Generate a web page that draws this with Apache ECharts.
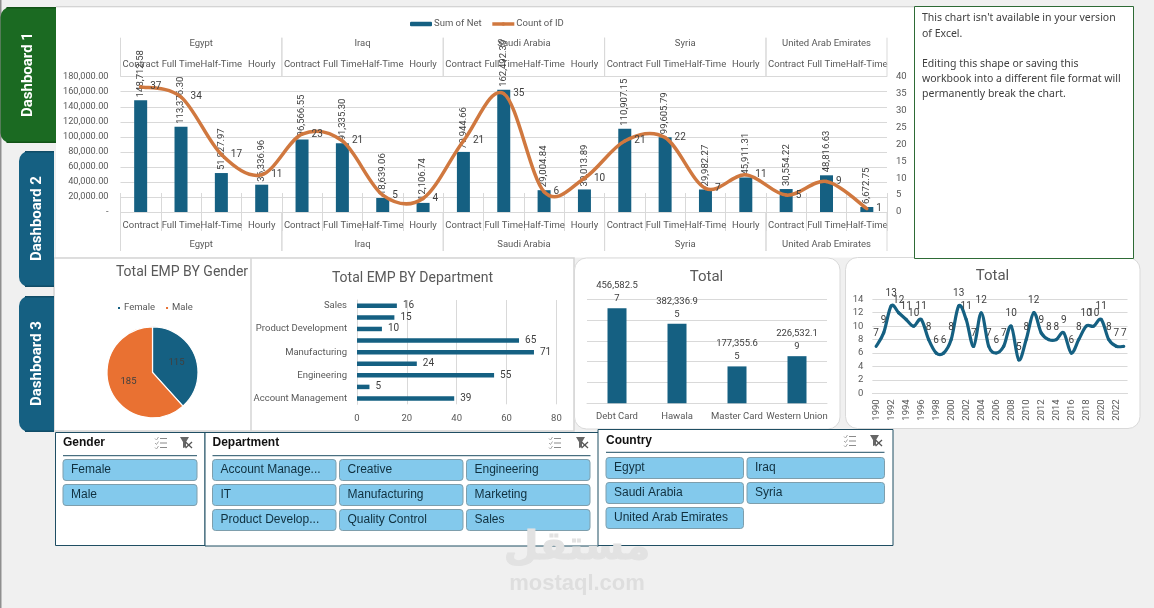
<!DOCTYPE html>
<html>
<head>
<meta charset="utf-8">
<title>HR and Payroll Dashboard</title>
<style>
  html, body { margin: 0; padding: 0; background: #f0f0f0; overflow: hidden; }
  #board { width: 1154px; height: 608px; }
</style>
<script src="https://cdn.jsdelivr.net/npm/echarts@6/dist/echarts.min.js"></script>
</head>
<body>
<div id="board"></div>
<script>
// Net pay and headcount by country and contract type
const contractTypes = ['Contract','Full Time','Half-Time','Hourly','Contract','Full Time','Half-Time','Hourly','Contract','Full Time','Half-Time','Hourly','Contract','Full Time','Half-Time','Hourly','Contract','Full Time','Half-Time'];
const netByContract = [148712.58,113376.30,51827.97,36336.96,96566.55,91335.30,18639.06,12106.74,79944.66,162492.39,29004.84,30013.89,110907.15,99605.79,29982.27,45911.31,30554.22,48816.63,6672.75];
const countByContract = [37,34,17,11,23,21,5,4,21,35,6,10,21,22,7,11,5,9,1];
const countryNames = ['Egypt','Iraq','Saudi Arabia','Syria','United Arab Emirates'];
const countrySizes = [4,4,4,4,3];

// Headcount by gender
const genderNames = ['Female','Male'];
const genderCounts = [115,185];

// Headcount by department
const departmentNames = ['Account Management','Creative','Engineering','IT','Manufacturing','Marketing','Product Development','Quality Control','Sales'];
const departmentCounts = [39,5,55,24,71,65,10,15,16];

// Net pay by payment method
const paymentMethods = ['Debt Card','Hawala','Master Card','Western Union'];
const paymentTotals = [456582.57,382336.95,177355.65,226532.19];

// Hires per year
const hireYears = ['1990','1991','1992','1993','1994','1995','1996','1997','1998','1999','2000','2001','2002','2003','2004','2005','2006','2007','2008','2009','2010','2011','2012','2013','2014','2015','2016','2017','2018','2019','2020','2021','2022','2023'];
const hireCounts = [7,9,13,12,11,10,11,8,6,6,8,13,11,7,12,7,6,7,10,5,8,12,9,8,8,9,6,8,10,10,11,8,7,7];

// Slicer captions
const genderButtons = ['Female','Male'];
const departmentButtons = ['Account Manage...','Creative','Engineering','IT','Manufacturing','Marketing','Product Develop...','Quality Control','Sales'];
const countryButtons = ['Egypt','Iraq','Saudi Arabia','Syria','United Arab Emirates'];

const navTabs = ['Dashboard 1','Dashboard 2','Dashboard 3'];
const noticeLines = ["This chart isn't available in your version",'of Excel.','','Editing this shape or saving this','workbook into a different file format will','permanently break the chart.'];

const BLUE = '#156082', ORANGE = '#E97132', CURVE = '#D0783F', GRID = '#d9d9d9', TEXT = '#595959', LABEL = '#404040';
const CHART_FONT = 'Roboto,sans-serif';
const DATA_FONT = 'Roboto,sans-serif';
const TITLE_FONT = 'Roboto,sans-serif';
const NOTE_FONT = '"Noto Sans",sans-serif';
const SLICER_FONT = '"Liberation Sans",sans-serif';

function money(v, digits) {
  return v.toLocaleString('en-US', { minimumFractionDigits: digits, maximumFractionDigits: digits });
}

// Country spans for the outer level of the two-level category axis
const countrySpans = [];
countrySizes.reduce((start, size) => { countrySpans.push([start, start + size - 1]); return start + size; }, 0);

function renderCountryLevel(params, api) {
  const span = countrySpans[params.dataIndex];
  const band = api.size([1, 0])[0];
  const x0 = api.coord([span[0], 0])[0] - band / 2;
  const x1 = api.coord([span[1], 0])[0] + band / 2;
  const top = params.coordSys.y, bottom = params.coordSys.y + params.coordSys.height;
  const stroke = { stroke: GRID, lineWidth: 1 };
  const kids = [];
  [x0, x1].forEach(x => {
    kids.push({ type: 'line', shape: { x1: x, y1: top - 39, x2: x, y2: top }, style: stroke, silent: true });
    kids.push({ type: 'line', shape: { x1: x, y1: bottom, x2: x, y2: bottom + 39 }, style: stroke, silent: true });
  });
  [top - 33, bottom + 33].forEach(y => {
    kids.push({ type: 'text', x: (x0 + x1) / 2, y, style: { text: countryNames[params.dataIndex], fill: TEXT, font: '9.5px ' + CHART_FONT, align: 'center', verticalAlign: 'middle' } });
  });
  return { type: 'group', children: kids };
}

// Spline drawn the way spreadsheet charts smooth a line: Catmull-Rom through every value
function splineRenderer(values, color, width) {
  return function (params, api) {
    const i = params.dataIndex;
    if (i >= values.length - 1) return null;
    const at = k => api.coord([Math.min(values.length - 1, Math.max(0, k)), values[Math.min(values.length - 1, Math.max(0, k))]]);
    const p0 = at(i - 1), p1 = at(i), p2 = at(i + 1), p3 = at(i + 2);
    return {
      type: 'bezierCurve', silent: true,
      shape: {
        x1: p1[0], y1: p1[1], x2: p2[0], y2: p2[1],
        cpx1: p1[0] + (p2[0] - p0[0]) / 6, cpy1: p1[1] + (p2[1] - p0[1]) / 6,
        cpx2: p2[0] - (p3[0] - p1[0]) / 6, cpy2: p2[1] - (p3[1] - p1[1]) / 6
      },
      style: { stroke: color, lineWidth: width, fill: null, lineCap: 'round' }
    };
  };
}
const indexed = values => values.map((v, i) => [i, v]);

// Static page furniture
const shapes = [];
function rect(x, y, w, h, fill, stroke, r, lw) {
  shapes.push({ type: 'rect', z: -10, shape: { x, y, width: w, height: h, r: r || 0 }, style: { fill: fill || 'transparent', stroke: stroke || null, lineWidth: lw || 1 }, silent: true });
}
function label(x, y, text, font, fill, align) {
  shapes.push({ type: 'text', z: -5, x, y, style: { text, font, fill, align: align || 'left', verticalAlign: 'middle' }, silent: true });
}

rect(0, 0, 1.5, 608, '#8f8f8f');
rect(56, 6, 858, 1.5, '#d4d4d4');
rect(56, 7.5, 858, 250, '#ffffff');
rect(54, 258, 520, 173, '#ffffff', '#d4d4d4', 0, 1.5);
shapes.push({ type: 'line', z: -9, shape: { x1: 251, y1: 258, x2: 251, y2: 431 }, style: { stroke: '#d4d4d4', lineWidth: 1.5 }, silent: true });
rect(574.5, 258, 265.5, 171, '#ffffff', '#d9d9d9', 12);
rect(845.5, 257.5, 294.5, 171, '#ffffff', '#d9d9d9', 12);
rect(914.5, 6.5, 219, 252, '#ffffff', '#2e6b36', 0, 1);
noticeLines.forEach((t, i) => label(922, 18.5 + i * 15.2, t, '10.5px ' + NOTE_FONT, '#404040'));

// Side navigation tabs
const tabBoxes = [[0.5, 7, 55.5, 136, '#1B6A22', '#125217'], [19, 151, 35, 136, BLUE, '#104c67'], [19, 296, 35, 136, BLUE, '#104c67']];
navTabs.forEach((name, i) => {
  const b = tabBoxes[i];
  rect(b[0], b[1], b[2], b[3], b[4], null, [10, 0, 0, 10]);
  shapes.push({ type: 'rect', z: -9, shape: { x: b[0] + 6, y: b[1], width: b[2] - 6, height: 1.5 }, style: { fill: b[5] }, silent: true });
  shapes.push({ type: 'rect', z: -9, shape: { x: b[0] + 6, y: b[1] + b[3] - 1.5, width: b[2] - 6, height: 1.5 }, style: { fill: b[5] }, silent: true });
  shapes.push({ type: 'text', z: -5, x: b[0] + b[2] - (i === 0 ? 27.5 : 16.5), y: b[1] + b[3] / 2 - 0.5, rotation: Math.PI / 2, style: { text: name, font: 'bold 15px ' + TITLE_FONT, fill: '#ffffff', align: 'center', verticalAlign: 'middle' }, silent: true });
});

// Slicer header icons
function slicerIcons(xList, y) {
  const c = '#8a8a8a';
  for (let k = 0; k < 3; k++) {
    const yy = y - 4.5 + k * 4.5;
    shapes.push({ type: 'line', z: -5, shape: { x1: xList[0] - 1, y1: yy, x2: xList[0] + 6, y2: yy }, style: { stroke: c, lineWidth: 1 }, silent: true });
    shapes.push({ type: 'polyline', z: -5, shape: { points: [[xList[0] - 6, yy], [xList[0] - 4.5, yy + 1.5], [xList[0] - 2.5, yy - 1.5]] }, style: { stroke: '#a8a8a8', fill: null, lineWidth: 1 }, silent: true });
  }
  const fx = xList[1];
  shapes.push({ type: 'polygon', z: -5, shape: { points: [[fx - 6, y - 6], [fx + 3, y - 6], [fx, y - 1], [fx, y + 4], [fx - 3, y + 5], [fx - 3, y - 1]] }, style: { fill: '#666666' }, silent: true });
  shapes.push({ type: 'line', z: -4, shape: { x1: fx - 0.5, y1: y - 1, x2: fx + 6, y2: y + 5 }, style: { stroke: '#555555', lineWidth: 1.3 }, silent: true });
  shapes.push({ type: 'line', z: -4, shape: { x1: fx + 6, y1: y - 1, x2: fx - 0.5, y2: y + 5 }, style: { stroke: '#555555', lineWidth: 1.3 }, silent: true });
}

function slicer(box, title, captions, cols, innerX, btnW, btnPitch, ruleRight, headY, ruleY, firstBtnY, iconX) {
  rect(box[0], box[1], box[2], box[3], '#ffffff', '#1f4e63', 0, 1);
  label(innerX, headY, title, 'bold 12px ' + SLICER_FONT, '#111111');
  shapes.push({ type: 'line', z: -5, shape: { x1: innerX, y1: ruleY, x2: ruleRight, y2: ruleY }, style: { stroke: '#1f4e63', lineWidth: 1 }, silent: true });
  slicerIcons(iconX, headY);
  captions.forEach((cap, i) => {
    const col = i % cols, row = Math.floor(i / cols);
    const bx = innerX + col * btnPitch, by = firstBtnY + row * 25;
    rect(bx, by, btnW, 21, '#83C9EC', '#7e9eac', 3, 1);
    label(bx + 8, by + 10.5, cap, '12px ' + SLICER_FONT, '#10303f');
  });
}
slicer([55.5, 432.5, 149.5, 113], 'Gender', genderButtons, 1, 63, 134, 0, 197, 443, 455.7, 459.5, [161, 186]);
slicer([205, 432.5, 393.5, 113.5], 'Department', departmentButtons, 3, 212.5, 123.5, 127, 590.5, 443, 455.7, 459.5, [555, 582]);
slicer([598, 429.5, 295, 116], 'Country', countryButtons, 2, 606, 137.5, 141, 884.5, 441, 452.3, 457.5, [850, 876]);

// Site mark beneath the slicers
shapes.push({ type: 'text', z: -3, x: 577, y: 549, style: { text: 'مستقل', font: 'bold 40px "DejaVu Sans",sans-serif', fill: '#e2e2e2', stroke: '#e2e2e2', lineWidth: 1, align: 'center', verticalAlign: 'middle' }, silent: true });
label(577, 584, 'mostaql.com', 'bold 22px "Liberation Sans",sans-serif', '#dedede', 'center');

const G = (left, right, top, bottom) => ({ left, top, width: right - left, height: bottom - top, containLabel: false });
const plainAxisLabel = (size) => ({ color: TEXT, fontFamily: CHART_FONT, fontSize: size });
const chartTitle = (text, left, top, size) => ({ text, left, top, padding: 0, textAlign: 'center', textVerticalAlign: 'middle', textStyle: { fontFamily: TITLE_FONT, fontSize: size, fontWeight: 'normal', color: TEXT } });

const option = {
  animation: false,
  backgroundColor: '#f0f0f0',
  graphic: { elements: shapes },
  title: [
    chartTitle('Total EMP BY Gender', 182, 272.5, 14),
    chartTitle('Total EMP BY Department', 412.5, 278.5, 14),
    chartTitle('Total', 706.5, 277.5, 15),
    chartTitle('Total', 992.5, 276, 15)
  ],
  legend: [
    { data: ['Sum of Net', 'Count of ID'], left: 405, top: 14, itemWidth: 22, itemHeight: 4.5, itemGap: 9,
      lineStyle: { width: 3.5, opacity: 1, color: CURVE },
      textStyle: { color: TEXT, fontFamily: CHART_FONT, fontSize: 9.5, padding: [0, 0, 0, -3] } },
    { data: genderNames, left: 111, top: 298, itemWidth: 4, itemHeight: 4, itemGap: 9, icon: 'rect', textStyle: { color: TEXT, fontFamily: CHART_FONT, fontSize: 9.5, padding: [0, 0, 0, -2] } }
  ],
  grid: [
    G(120.5, 887, 76.7, 212),
    G(357, 556.4, 300, 404.3),
    G(587, 827, 299.3, 403.3),
    G(872.4, 1127.5, 299.3, 393.3)
  ],
  xAxis: [
    { gridIndex: 0, type: 'category', data: contractTypes, position: 'bottom',
      axisLine: { lineStyle: { color: GRID } }, axisTick: { show: true, length: 19, lineStyle: { color: GRID } },
      axisLabel: Object.assign(plainAxisLabel(9.5), { interval: 0, margin: 9 }) },
    { gridIndex: 0, type: 'category', data: contractTypes, position: 'top',
      axisLine: { lineStyle: { color: GRID } }, axisTick: { show: true, length: 19, lineStyle: { color: GRID } },
      axisLabel: Object.assign(plainAxisLabel(9.5), { interval: 0, margin: 7.5 }) },
    { gridIndex: 1, type: 'value', min: 0, max: 80, interval: 20,
      axisLine: { show: false }, axisTick: { show: false },
      splitLine: { lineStyle: { color: GRID } },
      axisLabel: Object.assign(plainAxisLabel(9.5), { margin: 9 }) },
    { gridIndex: 2, type: 'category', data: paymentMethods,
      axisLine: { lineStyle: { color: GRID } }, axisTick: { show: false },
      axisLabel: Object.assign(plainAxisLabel(9.5), { interval: 0, margin: 8 }) },
    { gridIndex: 3, type: 'category', data: hireYears,
      axisLine: { lineStyle: { color: GRID } }, axisTick: { show: false },
      axisLabel: Object.assign(plainAxisLabel(9.5), { interval: 1, rotate: 90, margin: 6 }) }
  ],
  yAxis: [
    { gridIndex: 0, type: 'value', min: 0, max: 180000, interval: 20000,
      axisLine: { show: false }, axisTick: { show: false }, splitLine: { lineStyle: { color: GRID } },
      axisLabel: Object.assign(plainAxisLabel(9.2), { margin: 12, formatter: v => v === 0 ? '-' : money(v, 2) }) },
    { gridIndex: 0, type: 'value', min: 0, max: 40, interval: 5, position: 'right',
      axisLine: { show: false }, axisTick: { show: false }, splitLine: { show: false },
      axisLabel: Object.assign(plainAxisLabel(9.5), { margin: 9 }) },
    { gridIndex: 1, type: 'category', data: departmentNames,
      axisLine: { show: true, lineStyle: { color: GRID } }, axisTick: { show: false },
      axisLabel: Object.assign(plainAxisLabel(9.5), { interval: 1, margin: 10 }) },
    { gridIndex: 2, type: 'value', min: 0, max: 500000, interval: 100000,
      axisLine: { show: false }, axisTick: { show: false }, splitLine: { lineStyle: { color: GRID } },
      axisLabel: { show: false } },
    { gridIndex: 3, type: 'value', min: 0, max: 14, interval: 2,
      axisLine: { show: false }, axisTick: { show: false }, splitLine: { lineStyle: { color: GRID } },
      axisLabel: Object.assign(plainAxisLabel(9.5), { margin: 9 }) }
  ],
  series: [
    { name: 'Sum of Net', type: 'bar', xAxisIndex: 0, yAxisIndex: 0, data: netByContract, barWidth: 13, itemStyle: { color: BLUE },
      label: { show: true, position: 'top', rotate: 90, distance: 3, align: 'left', verticalAlign: 'middle', color: LABEL, fontFamily: DATA_FONT, fontSize: 9.5, formatter: p => money(p.value, 2) } },
    { type: 'custom', xAxisIndex: 0, yAxisIndex: 1, data: indexed(countByContract), renderItem: splineRenderer(countByContract, CURVE, 3.5), silent: true, z: 4 },
    { name: 'Count of ID', type: 'line', xAxisIndex: 0, yAxisIndex: 1, data: countByContract, symbol: 'circle', symbolSize: 1, showSymbol: true, z: 5,
      lineStyle: { opacity: 0 }, itemStyle: { color: CURVE },
      label: { show: true, position: 'right', distance: 9, color: LABEL, fontFamily: DATA_FONT, fontSize: 10 } },
    { type: 'custom', xAxisIndex: 0, yAxisIndex: 0, data: countrySpans, renderItem: renderCountryLevel, silent: true, z: 1 },
    { name: 'Gender', type: 'pie', center: [152.5, 372.3], radius: [0, 45.5], startAngle: 90, clockwise: true,
      data: genderNames.map((name, i) => ({ name, value: genderCounts[i], itemStyle: { color: i ? ORANGE : BLUE } })),
      itemStyle: { borderColor: '#ffffff', borderWidth: 1.2 },
      label: { show: true, position: 'inside', formatter: '{c}', color: LABEL, fontFamily: DATA_FONT, fontSize: 9.5 }, labelLine: { show: false }, emphasis: { disabled: true } },
    { name: 'Department', type: 'bar', xAxisIndex: 2, yAxisIndex: 2, data: departmentCounts, barWidth: 4.5, itemStyle: { color: BLUE },
      label: { show: true, position: 'right', distance: 6, color: LABEL, fontFamily: DATA_FONT, fontSize: 10 } },
    { name: 'Payment', type: 'bar', xAxisIndex: 3, yAxisIndex: 3, data: paymentTotals, barWidth: 19, itemStyle: { color: BLUE },
      label: { show: true, position: 'top', distance: 3, color: LABEL, fontFamily: DATA_FONT, fontSize: 9.5, lineHeight: 13, align: 'center',
        formatter: p => { const s = money(p.value, 2); return s.slice(0, 9) + '\n' + s.slice(9); } } },
    { type: 'custom', xAxisIndex: 4, yAxisIndex: 4, data: indexed(hireCounts), renderItem: splineRenderer(hireCounts, BLUE, 3.2), silent: true, z: 4 },
    { name: 'Hires', type: 'line', xAxisIndex: 4, yAxisIndex: 4, data: hireCounts, symbol: 'circle', symbolSize: 1, showSymbol: true, z: 5,
      lineStyle: { opacity: 0 }, itemStyle: { color: BLUE },
      label: { show: true, position: 'top', distance: 7, color: LABEL, fontFamily: DATA_FONT, fontSize: 10 } }
  ]
};

const chart = echarts.init(document.getElementById('board'), null, { renderer: 'canvas', width: 1154, height: 608 });
chart.setOption(option);
</script>
</body>
</html>
